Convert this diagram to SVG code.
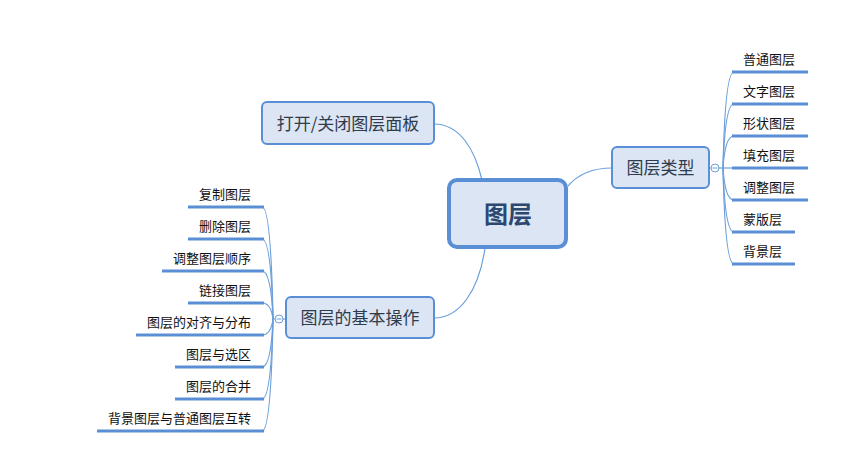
<svg xmlns="http://www.w3.org/2000/svg" width="867" height="450" viewBox="0 0 867 450">
<style>
.bg{fill:#ffffff}
.node{fill:#dbe5f3;stroke:#5a8fd6;stroke-width:2}
.central{fill:#dbe5f3;stroke:#5a8fd6;stroke-width:4}
.ntext{font-family:"Noto Sans CJK SC","Liberation Sans",sans-serif;font-size:17px;fill:#303b4b;text-anchor:middle}
.ctext{font-family:"Noto Sans CJK SC","Liberation Sans",sans-serif;font-size:24px;font-weight:bold;fill:#2c4770;text-anchor:middle}
.leaf{font-family:"Noto Sans CJK SC","Liberation Sans",sans-serif;font-size:13px;fill:#111111}
.lt{text-anchor:end}
.ul{stroke:#5a8fd6;stroke-width:3;fill:none}
.con{stroke:#6a9fdc;stroke-width:1.2;fill:none}
.col{fill:#ffffff;stroke:#6a9fdc;stroke-width:1}
</style>
<rect class="bg" x="0" y="0" width="867" height="450"/>
<g id="connectors">
<path class="con" d="M 434 124 C 460 124 475 150 482 180"/>
<path class="con" d="M 568 186 C 580 172 595 168 612 168"/>
<path class="con" d="M 485 248 C 479 290 460 318 434 318"/>
<path class="con" d="M 286 319 L 283 319"/>
<path class="con" d="M 275 319 L 273 319"/>
<path class="con" d="M 273 319 Q 271 207 262 207"/>
<path class="con" d="M 273 319 Q 271 239 262 239"/>
<path class="con" d="M 273 319 Q 271 271 262 271"/>
<path class="con" d="M 273 319 Q 271 303 262 303"/>
<path class="con" d="M 273 319 Q 271 335 262 335"/>
<path class="con" d="M 273 319 Q 271 367 262 367"/>
<path class="con" d="M 273 319 Q 271 399 262 399"/>
<path class="con" d="M 273 319 Q 271 431 262 431"/>
<path class="con" d="M 709 168 L 711 168"/>
<path class="con" d="M 719 168 L 723 168"/>
<path class="con" d="M 723 168 Q 725 72 734 72"/>
<path class="con" d="M 723 168 Q 725 104 734 104"/>
<path class="con" d="M 723 168 Q 725 136 734 136"/>
<path class="con" d="M 723 168 L 734 168"/>
<path class="con" d="M 723 168 Q 725 200 734 200"/>
<path class="con" d="M 723 168 Q 725 232 734 232"/>
<path class="con" d="M 723 168 Q 725 264 734 264"/>
</g>
<g id="central">
<rect class="central" x="449" y="180" width="117" height="67" rx="8"/>
<text class="ctext" x="508" y="223">图层</text>
</g>
<g id="n-open">
<rect class="node" x="262" y="102" width="172" height="42" rx="5"/>
<text class="ntext" x="348" y="130">打开/关闭图层面板</text>
</g>
<g id="n-types">
<rect class="node" x="612" y="147" width="97" height="41" rx="5"/>
<text class="ntext" x="660.5" y="174">图层类型</text>
<circle class="col" cx="715" cy="168" r="4"/>
<line x1="712.5" y1="168" x2="717.5" y2="168" stroke="#6a9fdc" stroke-width="1"/>
</g>
<g id="n-ops">
<rect class="node" x="286" y="297" width="148" height="41" rx="5"/>
<text class="ntext" x="360" y="324">图层的基本操作</text>
<circle class="col" cx="279" cy="319" r="4"/>
<line x1="276.5" y1="319" x2="281.5" y2="319" stroke="#6a9fdc" stroke-width="1"/>
</g>
<g id="t1"><line class="ul" x1="732" y1="72" x2="808" y2="72"/><text class="leaf" x="743" y="64">普通图层</text></g>
<g id="t2"><line class="ul" x1="732" y1="104" x2="808" y2="104"/><text class="leaf" x="743" y="96">文字图层</text></g>
<g id="t3"><line class="ul" x1="732" y1="136" x2="808" y2="136"/><text class="leaf" x="743" y="128">形状图层</text></g>
<g id="t4"><line class="ul" x1="732" y1="168" x2="808" y2="168"/><text class="leaf" x="743" y="160">填充图层</text></g>
<g id="t5"><line class="ul" x1="732" y1="200" x2="808" y2="200"/><text class="leaf" x="743" y="192">调整图层</text></g>
<g id="t6"><line class="ul" x1="732" y1="232" x2="795" y2="232"/><text class="leaf" x="743" y="224">蒙版层</text></g>
<g id="t7"><line class="ul" x1="732" y1="264" x2="795" y2="264"/><text class="leaf" x="743" y="256">背景层</text></g>
<g id="o1"><line class="ul" x1="188" y1="207" x2="264" y2="207"/><text class="leaf lt" x="251" y="199">复制图层</text></g>
<g id="o2"><line class="ul" x1="188" y1="239" x2="264" y2="239"/><text class="leaf lt" x="251" y="231">删除图层</text></g>
<g id="o3"><line class="ul" x1="162" y1="271" x2="264" y2="271"/><text class="leaf lt" x="251" y="263">调整图层顺序</text></g>
<g id="o4"><line class="ul" x1="188" y1="303" x2="264" y2="303"/><text class="leaf lt" x="251" y="295">链接图层</text></g>
<g id="o5"><line class="ul" x1="136" y1="335" x2="264" y2="335"/><text class="leaf lt" x="251" y="327">图层的对齐与分布</text></g>
<g id="o6"><line class="ul" x1="175" y1="367" x2="264" y2="367"/><text class="leaf lt" x="251" y="359">图层与选区</text></g>
<g id="o7"><line class="ul" x1="175" y1="399" x2="264" y2="399"/><text class="leaf lt" x="251" y="391">图层的合并</text></g>
<g id="o8"><line class="ul" x1="97" y1="431" x2="264" y2="431"/><text class="leaf lt" x="251" y="423">背景图层与普通图层互转</text></g>
</svg>
